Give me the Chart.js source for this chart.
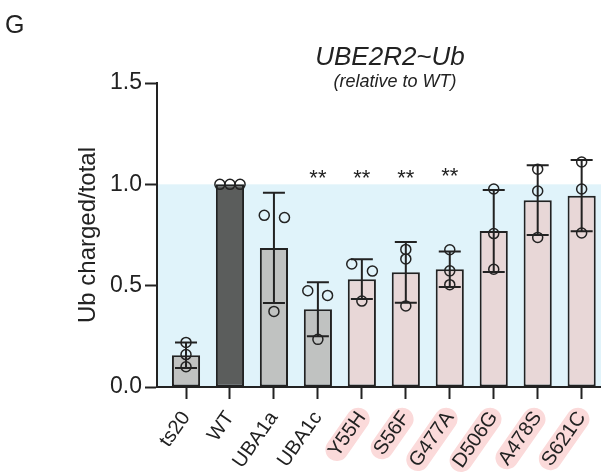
<!DOCTYPE html>
<html>
<head>
<meta charset="utf-8">
<script src="https://cdn.jsdelivr.net/npm/chart.js@4.4.0/dist/chart.umd.min.js"></script>
<style>
  html, body { margin: 0; padding: 0; background: #fff; }
  #wrap { width: 601px; height: 475px; }
</style>
</head>
<body>
<div id="wrap"><canvas id="canvas" width="601" height="475"></canvas></div>
<script>
// groups on the x axis
const LABELS = ["ts20", "WT", "UBA1a", "UBA1c", "Y55H", "S56F", "G477A", "D506G", "A478S", "S621C"];
// bar height = mean, error bar = SD
const MEANS = [0.157, 1.0, 0.686, 0.384, 0.532, 0.566, 0.581, 0.770, 0.922, 0.944];
const SDS = [0.063, 0, 0.272, 0.133, 0.098, 0.150, 0.087, 0.202, 0.172, 0.176];
// replicate points (3 per group)
const REPS = [
    [0.22, 0.16, 0.10],
    [1.0, 1.0, 1.0],
    [0.847, 0.836, 0.373],
    [0.475, 0.452, 0.235],
    [0.607, 0.572, 0.424],
    [0.679, 0.632, 0.400],
    [0.677, 0.573, 0.505],
    [0.977, 0.757, 0.581],
    [1.075, 0.967, 0.738],
    [1.110, 0.977, 0.760]
];
// horizontal scatter of the replicate dots, in group units
const JITTER = [
    [0, 0, 0],
    [-0.23, 0, 0.23],
    [-0.22, 0.24, 0],
    [-0.23, 0.22, 0],
    [-0.23, 0.24, 0],
    [0, 0, 0],
    [0, 0, 0],
    [0, 0, 0],
    [0, 0, 0],
    [0, 0, 0]
];
const STARS = ["", "", "", "**", "**", "**", "**", "", "", ""];
const STAR_LEVEL = [0, 0, 0, 1.06, 1.06, 1.06, 1.07, 0, 0, 0];
const HIGHLIGHT = [false, false, false, false, true, true, true, true, true, true];
const Y_TICKS = [0, 0.5, 1.0, 1.5];
const BAND_MAX = 1.0;

const FONT = "'Liberation Sans', Arial, Helvetica, sans-serif";
const INK = "#222";
const GRAY = "#c0c2c1", DARK = "#5b5d5c", PINK = "#e8d7d7";
const ROT = 55;

var barColors = LABELS.map(function (l, i) {
    if (l === "WT") return DARK;
    return HIGHLIGHT[i] ? PINK : GRAY;
});

var pts = [];
REPS.forEach(function (r, i) {
    r.forEach(function (v, k) { pts.push({ x: i + JITTER[i][k], y: v }); });
});

// light blue band + pink pills behind some tick labels
const backdrop = {
    id: "backdrop",
    beforeDraw(chart) {
        const { ctx, chartArea, scales: { x, y } } = chart;
        ctx.save();
        ctx.fillStyle = "rgb(224,243,250)";
        const yt = y.getPixelForValue(BAND_MAX), yb = y.getPixelForValue(0);
        ctx.fillRect(chartArea.left, yt, chart.width - chartArea.left, yb - yt);

        ctx.font = "20px " + FONT;
        const lh = 20 * 1.2;
        const rot = -ROT * Math.PI / 180;
        ctx.fillStyle = "rgb(251,218,218)";
        LABELS.forEach(function (l, i) {
            if (!HIGHLIGHT[i]) return;
            const w = ctx.measureText(l).width;
            const px = x.getPixelForValue(i) + (lh / 2) * Math.sin(rot);
            const py = x.top + 12 + 8;
            ctx.save();
            ctx.translate(px, py);
            ctx.rotate(rot);
            const hh = 11.5, padX = 5;
            const x0 = -w - padX, x1 = padX, cy = lh / 2;
            ctx.beginPath();
            ctx.moveTo(x0 + hh, cy - hh);
            ctx.lineTo(x1 - hh, cy - hh);
            ctx.arc(x1 - hh, cy, hh, -Math.PI / 2, Math.PI / 2);
            ctx.lineTo(x0 + hh, cy + hh);
            ctx.arc(x0 + hh, cy, hh, Math.PI / 2, Math.PI * 1.5);
            ctx.closePath();
            ctx.fill();
            ctx.restore();
        });
        ctx.restore();
    }
};

// SD error bars and significance stars
const errorBars = {
    id: "errorBars",
    afterDatasetsDraw(chart) {
        const { ctx, scales: { x, y } } = chart;
        ctx.save();
        ctx.strokeStyle = INK;
        ctx.lineWidth = 2;
        MEANS.forEach(function (m, i) {
            if (!SDS[i]) return;
            const cx = x.getPixelForValue(i);
            const hi = y.getPixelForValue(m + SDS[i]);
            const lo = y.getPixelForValue(m - SDS[i]);
            ctx.beginPath();
            ctx.moveTo(cx, hi); ctx.lineTo(cx, lo);
            ctx.moveTo(cx - 11, hi); ctx.lineTo(cx + 11, hi);
            ctx.moveTo(cx - 11, lo); ctx.lineTo(cx + 11, lo);
            ctx.stroke();
        });
        ctx.fillStyle = INK;
        ctx.font = "22px " + FONT;
        ctx.textAlign = "center";
        ctx.textBaseline = "alphabetic";
        STARS.forEach(function (s, i) {
            if (!s) return;
            ctx.fillText(s, x.getPixelForValue(i), y.getPixelForValue(STAR_LEVEL[i]) + 0.57 * 22);
        });
        ctx.restore();
    }
};

// panel letter and titles
const texts = {
    id: "texts",
    afterDraw(chart) {
        const ctx = chart.ctx;
        ctx.save();
        ctx.fillStyle = INK;
        ctx.textBaseline = "alphabetic";
        ctx.textAlign = "left";
        ctx.font = "25px " + FONT;
        ctx.fillText("G", 5, 33);
        ctx.textAlign = "center";
        ctx.font = "italic 26px " + FONT;
        ctx.fillText("UBE2R2~Ub", 390, 65);
        ctx.font = "italic 18px " + FONT;
        ctx.fillText("(relative to WT)", 395, 87);
        ctx.restore();
    }
};

var ctx = document.getElementById("canvas").getContext("2d");
var chart = new Chart(ctx, {
    type: "bar",
    data: {
        datasets: [{
            type: "scatter",
            data: pts,
            pointStyle: "circle",
            pointRadius: 5,
            pointBorderWidth: 1.5,
            borderColor: INK,
            backgroundColor: "rgba(0,0,0,0)",
            order: 0
        }, {
            type: "bar",
            data: MEANS.map(function (m, i) { return { x: i, y: m }; }),
            backgroundColor: barColors,
            borderColor: INK,
            borderWidth: 2,
            borderSkipped: false,
            barPercentage: 0.64,
            categoryPercentage: 1,
            order: 1
        }]
    },
    options: {
        responsive: false,
        animation: false,
        events: [],
        layout: { autoPadding: false, padding: { top: 83, right: 0, bottom: 0, left: 0 } },
        plugins: { legend: { display: false }, tooltip: { enabled: false } },
        scales: {
            x: {
                type: "linear",
                offset: false,
                min: -0.66,
                max: 9.44,
                afterBuildTicks: function (s) { s.ticks = LABELS.map(function (l, i) { return { value: i }; }); },
                afterFit: function (s) { s.height = 88; s.paddingLeft = 0; s.paddingRight = 0; },
                grid: { offset: false, drawOnChartArea: false, drawTicks: true, tickLength: 12, tickWidth: 2, tickColor: INK },
                border: { display: true, color: INK, width: 2 },
                ticks: {
                    autoSkip: false,
                    minRotation: ROT,
                    maxRotation: ROT,
                    padding: 8,
                    color: INK,
                    font: { family: FONT, size: 20 },
                    callback: function (v) { return LABELS[v]; }
                }
            },
            y: {
                min: 0,
                max: 1.5,
                afterBuildTicks: function (s) { s.ticks = Y_TICKS.map(function (v) { return { value: v }; }); },
                afterFit: function (s) { s.width = 157; },
                grid: { drawOnChartArea: false, drawTicks: true, tickLength: 12, tickWidth: 2, tickColor: INK },
                border: { display: true, color: INK, width: 2 },
                ticks: {
                    padding: 3,
                    color: INK,
                    font: { family: FONT, size: 23 },
                    callback: function (v) { return v.toFixed(1); }
                },
                title: {
                    display: true,
                    text: "Ub charged/total",
                    color: INK,
                    font: { family: FONT, size: 24 },
                    padding: { top: 74, bottom: 0 }
                }
            }
        }
    },
    plugins: [backdrop, errorBars, texts]
});
</script>
</body>
</html>
